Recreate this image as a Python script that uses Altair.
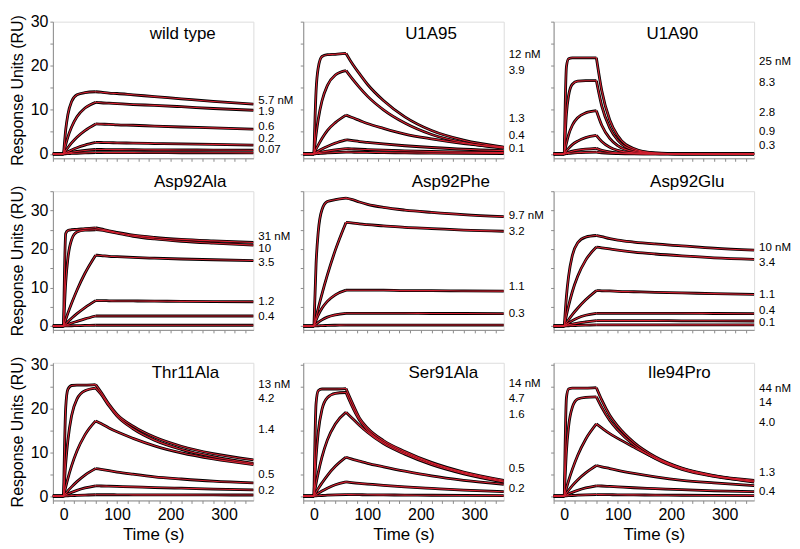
import altair as alt
import pandas as pd

FONT = "Liberation Sans"

TIME = [-20, 0, 4, 8, 15, 25, 40, 60, 70, 85, 100, 130, 170, 220, 280, 355]

PANELS = ["wild type", "U1A95", "U1A90",
          "Asp92Ala", "Asp92Phe", "Asp92Glu",
          "Thr11Ala", "Ser91Ala", "Ile94Pro"]
TITLE_T = [223, 219, 202, 237, 256, 230, 228, 242, 215]
TITLE_V = [27.3, 27.3, 27.3, 37.3, 37.3, 37.3, 28.1, 28.1, 28.1]
Y_DOMAINS = [[-1, 30], [-1, 35], [-1, 30.5]]
Y_TOPS = [30, 35, 30]
ROW_HEIGHTS = [137, 139, 138]

WILD_TYPE = [
    [0, 0, 5.5, 8.9, 11.9, 13.4, 13.9, 14.1, 14.0, 13.8, 13.7, 13.4, 13.0, 12.5, 11.9, 11.3],
    [0, 0, 2.1, 3.8, 6.1, 8.4, 10.4, 11.7, 11.6, 11.5, 11.4, 11.2, 11.0, 10.7, 10.3, 9.9],
    [0, 0, 0.75, 1.4, 2.5, 3.8, 5.3, 6.8, 6.75, 6.7, 6.6, 6.5, 6.3, 6.1, 5.9, 5.6],
    [0, 0, 0.26, 0.5, 0.9, 1.4, 2.0, 2.6, 2.58, 2.55, 2.5, 2.45, 2.35, 2.25, 2.15, 2.0],
    [0, 0, 0.1, 0.2, 0.35, 0.55, 0.78, 1.0, 1.0, 0.98, 0.97, 0.95, 0.92, 0.9, 0.87, 0.84],
    [0, 0, 0.03, 0.06, 0.1, 0.15, 0.22, 0.3, 0.3, 0.29, 0.29, 0.28, 0.27, 0.26, 0.25, 0.24],
]
U1A95 = [
    [0, 0, 14.3, 19.5, 22.1, 22.5, 22.6, 22.8, 20.8, 18.2, 15.8, 12.1, 8.4, 5.3, 3.1, 1.55],
    [0, 0, 4.4, 7.8, 12.0, 15.5, 17.9, 18.9, 17.3, 15.1, 13.1, 10.0, 7.0, 4.4, 2.55, 1.3],
    [0, 0, 1.1, 2.0, 3.5, 5.3, 7.1, 8.8, 8.3, 7.6, 6.9, 5.8, 4.5, 3.4, 2.35, 1.5],
    [0, 0, 0.31, 0.61, 1.09, 1.69, 2.44, 3.2, 3.05, 2.8, 2.6, 2.25, 1.85, 1.45, 1.05, 0.75],
    [0, 0, 0.12, 0.23, 0.41, 0.63, 0.92, 1.2, 1.14, 1.05, 0.98, 0.85, 0.7, 0.55, 0.4, 0.28],
    [0, 0, 0.04, 0.08, 0.14, 0.21, 0.3, 0.4, 0.38, 0.35, 0.33, 0.28, 0.23, 0.18, 0.13, 0.09],
]
U1A90 = [
    [0, 0, 19.8, 21.6, 21.8, 21.8, 21.8, 21.8, 14.4, 7.7, 4.1, 1.2, 0.2, 0.03, 0, 0],
    [0, 0, 9.1, 13.2, 15.8, 16.5, 16.6, 16.6, 10.9, 5.9, 3.1, 0.9, 0.17, 0.02, 0, 0],
    [0, 0, 2.4, 4.3, 6.5, 8.2, 9.3, 9.8, 6.5, 3.5, 1.85, 0.53, 0.1, 0.01, 0, 0],
    [0, 0, 0.68, 1.26, 2.1, 2.9, 3.7, 4.2, 2.8, 1.5, 0.8, 0.23, 0.04, 0, 0, 0],
    [0, 0, 0.2, 0.38, 0.62, 0.86, 1.08, 1.25, 0.82, 0.44, 0.24, 0.07, 0.01, 0, 0, 0],
    [0, 0, 0.06, 0.12, 0.2, 0.28, 0.35, 0.4, 0.26, 0.14, 0.08, 0.02, 0, 0, 0, 0],
]
ASP92ALA = [
    [0, 0, 24.0, 24.8, 25.0, 25.1, 25.3, 25.5, 25.2, 24.7, 24.3, 23.6, 23.0, 22.5, 22.1, 21.7],
    [0, 0, 11.3, 17.5, 22.4, 24.4, 24.9, 25.0, 24.9, 24.5, 24.1, 23.3, 22.6, 22.0, 21.5, 21.0],
    [0, 0, 1.7, 3.3, 5.9, 9.3, 13.7, 18.4, 18.3, 18.1, 18.0, 17.8, 17.6, 17.4, 17.2, 17.0],
    [0, 0, 0.57, 1.12, 2.0, 3.2, 4.8, 6.6, 6.6, 6.55, 6.5, 6.5, 6.45, 6.4, 6.35, 6.3],
    [0, 0, 0.2, 0.4, 0.75, 1.2, 1.85, 2.6, 2.6, 2.6, 2.6, 2.6, 2.6, 2.6, 2.6, 2.6],
    [0, 0, 0.02, 0.04, 0.07, 0.1, 0.15, 0.2, 0.2, 0.2, 0.2, 0.2, 0.2, 0.2, 0.2, 0.2],
]
ASP92PHE = [
    [0, 0, 16.2, 24.4, 30.2, 32.3, 32.8, 33.2, 32.9, 32.2, 31.6, 30.8, 30.1, 29.5, 28.9, 28.4],
    [0, 0, 2.3, 4.6, 8.3, 13.2, 19.7, 26.9, 26.8, 26.5, 26.3, 26.0, 25.6, 25.3, 24.9, 24.6],
    [0, 0, 1.5, 2.8, 4.6, 6.4, 8.1, 9.3, 9.3, 9.3, 9.3, 9.3, 9.2, 9.2, 9.1, 9.05],
    [0, 0, 0.5, 0.95, 1.6, 2.3, 2.9, 3.3, 3.3, 3.3, 3.3, 3.3, 3.3, 3.25, 3.25, 3.2],
    [0, 0, 0.03, 0.06, 0.1, 0.15, 0.2, 0.25, 0.25, 0.25, 0.25, 0.25, 0.25, 0.25, 0.25, 0.25],
]
ASP92GLU = [
    [0, 0, 7.7, 12.9, 18.3, 21.6, 23.1, 23.5, 23.2, 22.7, 22.3, 21.8, 21.3, 20.8, 20.2, 19.7],
    [0, 0, 2.8, 5.2, 8.9, 12.9, 17.1, 20.5, 20.3, 20.0, 19.7, 19.2, 18.7, 18.2, 17.7, 17.3],
    [0, 0, 0.84, 1.64, 2.95, 4.6, 6.8, 9.2, 9.15, 9.1, 9.0, 8.9, 8.75, 8.6, 8.4, 8.2],
    [0, 0, 0.4, 0.8, 1.4, 2.1, 2.8, 3.3, 3.3, 3.3, 3.3, 3.3, 3.3, 3.3, 3.25, 3.2],
    [0, 0, 0.15, 0.3, 0.5, 0.75, 1.05, 1.4, 1.4, 1.4, 1.4, 1.4, 1.4, 1.35, 1.35, 1.3],
    [0, 0, 0.03, 0.06, 0.1, 0.15, 0.22, 0.3, 0.3, 0.3, 0.3, 0.3, 0.3, 0.3, 0.3, 0.3],
]
THR11ALA = [
    [0, 0, 20.3, 24.4, 25.3, 25.4, 25.4, 25.5, 23.8, 21.0, 18.7, 16.0, 13.5, 11.4, 9.7, 8.3],
    [0, 0, 7.5, 12.7, 18.4, 22.2, 24.1, 24.7, 23.3, 20.6, 18.3, 15.4, 12.8, 10.7, 9.0, 7.5],
    [0, 0, 2.1, 4.0, 6.9, 10.3, 14.0, 17.2, 16.6, 15.6, 14.7, 13.2, 11.5, 9.9, 8.5, 7.2],
    [0, 0, 0.61, 1.2, 2.1, 3.3, 4.8, 6.3, 6.1, 5.8, 5.5, 5.0, 4.4, 3.9, 3.4, 3.0],
    [0, 0, 0.25, 0.5, 0.85, 1.3, 1.85, 2.35, 2.3, 2.25, 2.2, 2.1, 1.95, 1.8, 1.6, 1.4],
    [0, 0, 0.03, 0.06, 0.1, 0.15, 0.22, 0.3, 0.3, 0.3, 0.29, 0.28, 0.27, 0.26, 0.25, 0.24],
]
SER91ALA = [
    [0, 0, 21.2, 24.1, 24.5, 24.5, 24.5, 24.6, 21.8, 17.9, 15.6, 12.7, 10.2, 7.7, 5.5, 3.6],
    [0, 0, 9.0, 14.6, 19.8, 22.5, 23.5, 23.7, 20.9, 17.4, 15.1, 12.3, 9.9, 7.5, 5.3, 3.4],
    [0, 0, 2.9, 5.3, 8.9, 12.8, 16.5, 19.2, 18.0, 16.2, 14.6, 12.0, 9.6, 7.2, 5.1, 3.2],
    [0, 0, 0.87, 1.7, 3.0, 4.7, 6.8, 8.9, 8.5, 8.0, 7.5, 6.7, 5.7, 4.6, 3.6, 2.7],
    [0, 0, 0.32, 0.63, 1.15, 1.8, 2.6, 3.25, 3.1, 2.9, 2.75, 2.45, 2.1, 1.75, 1.35, 1.0],
    [0, 0, 0.04, 0.08, 0.13, 0.19, 0.27, 0.35, 0.33, 0.31, 0.29, 0.26, 0.22, 0.18, 0.14, 0.11],
]
ILE94PRO = [
    [0, 0, 22.5, 24.5, 24.7, 24.7, 24.7, 24.8, 22.0, 18.5, 16.0, 12.3, 9.0, 6.4, 4.7, 3.6],
    [0, 0, 10.3, 15.9, 20.3, 22.2, 22.6, 22.7, 20.3, 17.3, 15.1, 11.7, 8.6, 6.1, 4.5, 3.4],
    [0, 0, 1.8, 3.5, 6.1, 9.3, 13.0, 16.5, 15.6, 14.3, 13.2, 11.2, 8.7, 6.3, 4.6, 3.2],
    [0, 0, 0.68, 1.33, 2.4, 3.7, 5.3, 7.0, 6.7, 6.3, 5.9, 5.2, 4.4, 3.6, 3.0, 2.4],
    [0, 0, 0.24, 0.48, 0.85, 1.3, 1.85, 2.35, 2.3, 2.2, 2.1, 1.9, 1.7, 1.45, 1.2, 1.0],
    [0, 0, 0.04, 0.08, 0.13, 0.19, 0.27, 0.35, 0.33, 0.31, 0.29, 0.26, 0.22, 0.18, 0.14, 0.11],
]

WT_LABELS = ["5.7 nM", "1.9", "0.6", "0.2", "0.07"]
WT_LABEL_V = [12.1, 9.5, 6.1, 3.4, 0.9]
U1A95_LABELS = ["12 nM", "3.9", "1.3", "0.4", "0.1"]
U1A95_LABEL_V = [22.5, 18.7, 8.0, 4.1, 1.2]
U1A90_LABELS = ["25 nM", "8.3", "2.8", "0.9", "0.3"]
U1A90_LABEL_V = [20.9, 16.0, 9.3, 4.9, 1.7]
ASP92ALA_LABELS = ["31 nM", "10", "3.5", "1.2", "0.4"]
ASP92ALA_LABEL_V = [23.1, 19.9, 16.3, 6.2, 2.4]
ASP92PHE_LABELS = ["9.7 nM", "3.2", "1.1", "0.3"]
ASP92PHE_LABEL_V = [28.6, 24.3, 10.1, 3.1]
ASP92GLU_LABELS = ["10 nM", "3.4", "1.1", "0.4", "0.1"]
ASP92GLU_LABEL_V = [20.2, 16.3, 8.1, 4.0, 0.8]
THR11ALA_LABELS = ["13 nM", "4.2", "1.4", "0.5", "0.2"]
THR11ALA_LABEL_V = [25.3, 22.1, 15.2, 4.8, 1.2]
SER91ALA_LABELS = ["14 nM", "4.7", "1.6", "0.5", "0.2"]
SER91ALA_LABEL_V = [25.7, 22.1, 18.5, 6.3, 1.5]
ILE94PRO_LABELS = ["44 nM", "14", "4.0", "1.3", "0.4"]
ILE94PRO_LABEL_V = [24.4, 21.2, 16.7, 5.3, 1.0]

ALL_CURVES = [WILD_TYPE, U1A95, U1A90, ASP92ALA, ASP92PHE, ASP92GLU,
              THR11ALA, SER91ALA, ILE94PRO]
ALL_LABELS = [WT_LABELS, U1A95_LABELS, U1A90_LABELS, ASP92ALA_LABELS,
              ASP92PHE_LABELS, ASP92GLU_LABELS, THR11ALA_LABELS,
              SER91ALA_LABELS, ILE94PRO_LABELS]
ALL_LABEL_V = [WT_LABEL_V, U1A95_LABEL_V, U1A90_LABEL_V, ASP92ALA_LABEL_V,
               ASP92PHE_LABEL_V, ASP92GLU_LABEL_V, THR11ALA_LABEL_V,
               SER91ALA_LABEL_V, ILE94PRO_LABEL_V]

SEGMENTS = [(-20, 0), (0, 60), (60, 355)]
X_DOMAIN = [-20, 355]

rows = []
for name, curves in zip(PANELS, ALL_CURVES):
    for ci, vals in enumerate(curves):
        for si, (lo, hi) in enumerate(SEGMENTS):
            for t, v in zip(TIME, vals):
                if lo <= t <= hi:
                    rows.append({"panel": name, "key": f"{ci}-{si}", "t": t, "v": v})
curve_df = pd.DataFrame(rows)

lab_rows = []
for name, labs, vs in zip(PANELS, ALL_LABELS, ALL_LABEL_V):
    for lab, v in zip(labs, vs):
        lab_rows.append({"panel": name, "label": lab, "t": X_DOMAIN[1], "v": v})
label_df = pd.DataFrame(lab_rows)

title_df = pd.DataFrame({"panel": PANELS, "label": PANELS, "t": TITLE_T, "v": TITLE_V})

AX_COLOR = "#8c8c8c"


def make_panel(i):
    row, col = divmod(i, 3)
    name = PANELS[i]
    ytop = Y_TOPS[row]
    yvals = list(range(0, ytop + 1, 5))
    xvals = list(range(-20, 356, 20))

    if row == 2:
        xaxis = alt.Axis(values=xvals, labelExpr="datum.value % 100 === 0 ? datum.label : ''",
                         title="Time (s)", labelOverlap=False, labelFlush=False,
                         tickSize=3, domainColor=AX_COLOR, tickColor=AX_COLOR,
                         labelFont=FONT, labelFontSize=16, labelColor="black", labelPadding=3,
                         titleFont=FONT, titleFontSize=17, titleFontWeight="normal",
                         titleColor="black", titlePadding=4, grid=False)
    else:
        xaxis = alt.Axis(values=xvals, labels=False, title=None, tickSize=3,
                         domainColor=AX_COLOR, tickColor=AX_COLOR, grid=False)
    if col == 0:
        yaxis = alt.Axis(values=yvals, labelExpr="datum.value % 10 === 0 ? datum.label : ''",
                         title="Response Units (RU)", labelOverlap=False, labelFlush=False,
                         tickSize=3, domainColor=AX_COLOR, tickColor=AX_COLOR,
                         labelFont=FONT, labelFontSize=16, labelColor="black", labelPadding=2,
                         titleFont=FONT, titleFontSize=16, titleFontWeight="normal",
                         titleColor="black", titlePadding=5, grid=False)
    else:
        yaxis = alt.Axis(values=yvals, labels=False, title=None, tickSize=3,
                         domainColor=AX_COLOR, tickColor=AX_COLOR, grid=False)

    x = alt.X("t:Q", scale=alt.Scale(domain=X_DOMAIN, nice=False, zero=False), axis=xaxis)
    y = alt.Y("v:Q", scale=alt.Scale(domain=Y_DOMAINS[row], nice=False, zero=False), axis=yaxis)

    cbase = alt.Chart(curve_df).transform_filter(alt.datum.panel == name)
    black = cbase.mark_line(color="black", strokeWidth=2.8, interpolate="monotone").encode(
        x=x, y=y, detail="key:N")
    red = cbase.mark_line(color="#d42030", strokeWidth=1.1, interpolate="monotone").encode(
        x=x, y=y, detail="key:N")
    labels = alt.Chart(label_df).transform_filter(alt.datum.panel == name).mark_text(
        align="left", baseline="middle", dx=5, font=FONT, fontSize=11.5, color="black").encode(
        x=x, y=y, text="label:N")
    title = alt.Chart(title_df).transform_filter(alt.datum.panel == name).mark_text(
        align="center", baseline="middle", font=FONT, fontSize=17, color="black").encode(
        x=x, y=y, text="label:N")
    return alt.layer(black, red, labels, title).properties(width=201, height=ROW_HEIGHTS[row])


chart = alt.concat(
    *[make_panel(i) for i in range(9)],
    columns=3, spacing={"row": 33, "column": 50}, bounds="flush",
).properties(
    padding={"left": 0, "top": 4, "right": 0, "bottom": 0}
).configure_view(strokeWidth=0).configure(background="white")

chart.save("out.html", embed_options={"renderer": "svg", "actions": False})
